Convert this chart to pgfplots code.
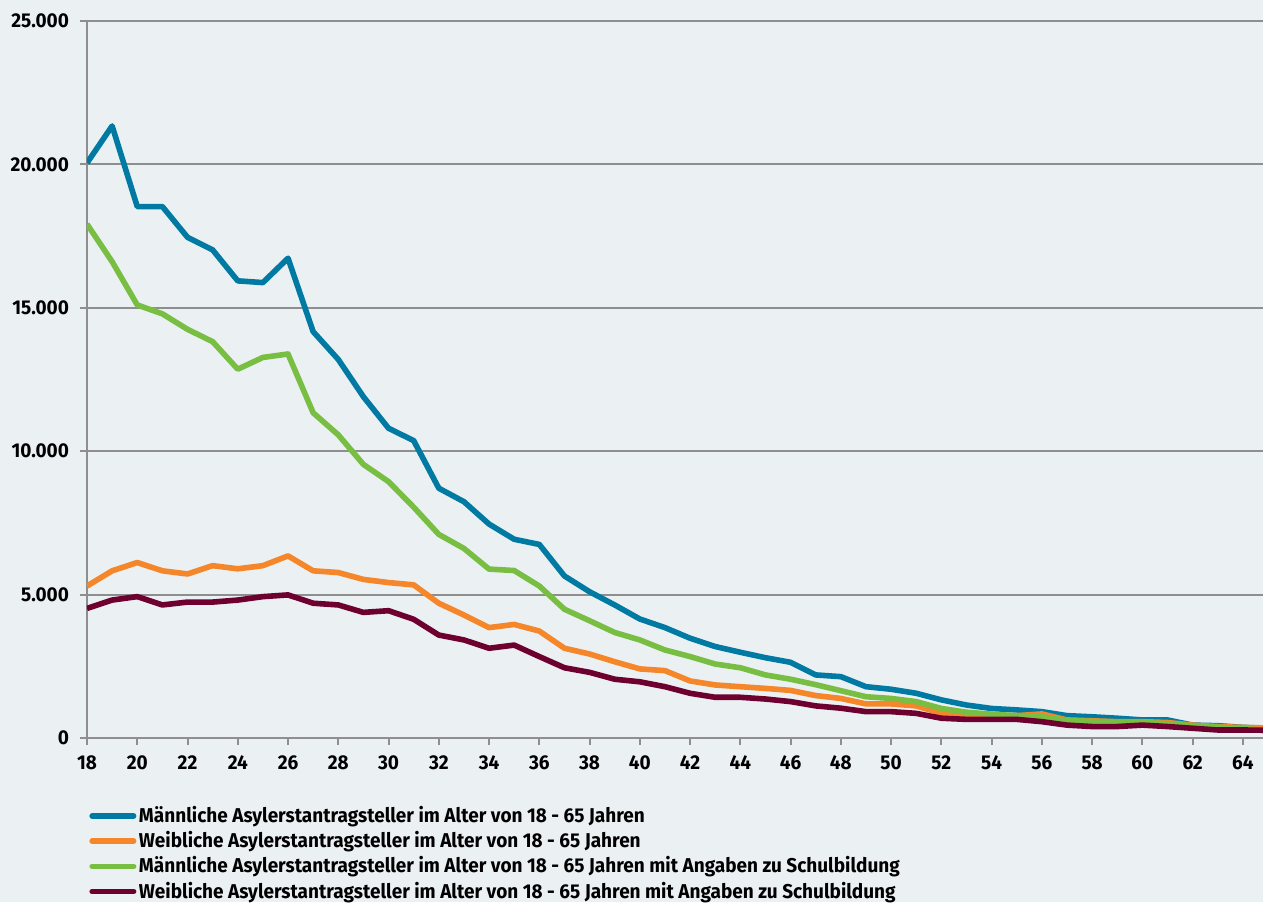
\documentclass[border=0pt]{standalone}
\usepackage{pgfplots}
\pgfplotsset{compat=1.18}
\usepackage{fontspec}
\setmainfont{Fira Sans}[FakeStretch=0.95]
\definecolor{bg}{HTML}{EBF0F3}
\definecolor{cblue}{HTML}{007AA3}
\definecolor{corange}{HTML}{F5862A}
\definecolor{cgreen}{HTML}{78BE43}
\definecolor{cmaroon}{HTML}{6E0030}
\definecolor{cgrid}{HTML}{8E8E8E}

\pgfplotstableread{
age blue orange green maroon
18 20050 5300 17920 4520
19 21340 5830 16610 4810
20 18530 6120 15100 4930
21 18530 5830 14790 4640
22 17460 5720 14250 4740
23 17020 6010 13820 4740
24 15940 5900 12860 4810
25 15880 6010 13270 4930
26 16730 6350 13390 4990
27 14170 5830 11340 4700
28 13200 5770 10570 4640
29 11900 5530 9540 4380
30 10800 5420 8940 4440
31 10370 5340 8050 4140
32 8710 4700 7100 3590
33 8240 4290 6610 3420
34 7460 3850 5890 3130
35 6930 3960 5840 3240
36 6750 3730 5300 2840
37 5650 3130 4490 2450
38 5100 2930 4090 2290
39 4640 2660 3680 2050
40 4150 2410 3420 1960
41 3850 2350 3070 1790
42 3480 1990 2840 1560
43 3190 1850 2580 1420
44 2990 1790 2450 1420
45 2800 1730 2200 1360
46 2640 1660 2050 1270
47 2200 1480 1860 1120
48 2140 1380 1650 1040
49 1790 1190 1440 920
50 1700 1190 1380 920
51 1560 1120 1270 860
52 1330 860 1030 690
53 1150 800 900 650
54 1030 780 830 650
55 980 780 780 650
56 920 840 740 570
57 780 630 610 450
58 740 600 580 400
59 690 570 560 400
60 630 570 540 450
61 630 540 500 400
62 450 450 430 340
63 430 400 380 280
64 370 370 330 280
65 340 350 250 270
}\datatable

\begin{document}
\begin{tikzpicture}
\fill[bg] (0,0) rectangle (631.5pt,-451pt);
\begin{axis}[
  at={(43.5pt,-369pt)}, anchor=south west,
  scale only axis, width=588pt, height=358.5pt,
  xmin=18, xmax=64.8, ymin=0, ymax=25000,
  axis lines*=left,
  axis line style={cgrid, line width=1pt},
  xtick={18,20,...,64},
  ytick={0,5000,10000,15000,20000,25000},
  ymajorgrids,
  grid style={cgrid, line width=1pt},
  tick align=outside,
  major tick length=3.5pt,
  tick style={cgrid, line width=1pt},
  scaled y ticks=false,
  /pgf/number format/.cd, 1000 sep={.}, assume math mode=true,
  /pgfplots/.cd,
  tick label style={font=\bfseries\fontsize{10}{12}\selectfont, text=black},
  yticklabel style={xshift=-2pt},
  xticklabel style={yshift=-2pt},
  legend cell align=left,
  legend style={at={(-0.0034,-0.0855)}, anchor=north west, draw=none, fill=none,
    font=\bfseries\fontsize{10}{12}\selectfont, row sep=0.4pt,
    nodes={inner sep=1.3pt}},
  legend image code/.code={\draw[#1, line width=2.8pt, line cap=round] (1.4pt,0pt) -- (22.1pt,0pt);},
  every axis plot/.append style={line width=2.8pt, line join=round},
]
\addplot[cblue] table[x=age, y=blue] {\datatable};
\addlegendentry{Männliche Asylerstantragsteller im Alter von 18 - 65 Jahren}
\addplot[corange] table[x=age, y=orange] {\datatable};
\addlegendentry{Weibliche Asylerstantragsteller im Alter von 18 - 65 Jahren}
\addplot[cgreen] table[x=age, y=green] {\datatable};
\addlegendentry{Männliche Asylerstantragsteller im Alter von 18 - 65 Jahren mit Angaben zu Schulbildung}
\addplot[cmaroon] table[x=age, y=maroon] {\datatable};
\addlegendentry{Weibliche Asylerstantragsteller im Alter von 18 - 65 Jahren mit Angaben zu Schulbildung}
\end{axis}
\pgfresetboundingbox
\useasboundingbox (0,0) rectangle (631.5pt,-451pt);
\end{tikzpicture}
\end{document}
